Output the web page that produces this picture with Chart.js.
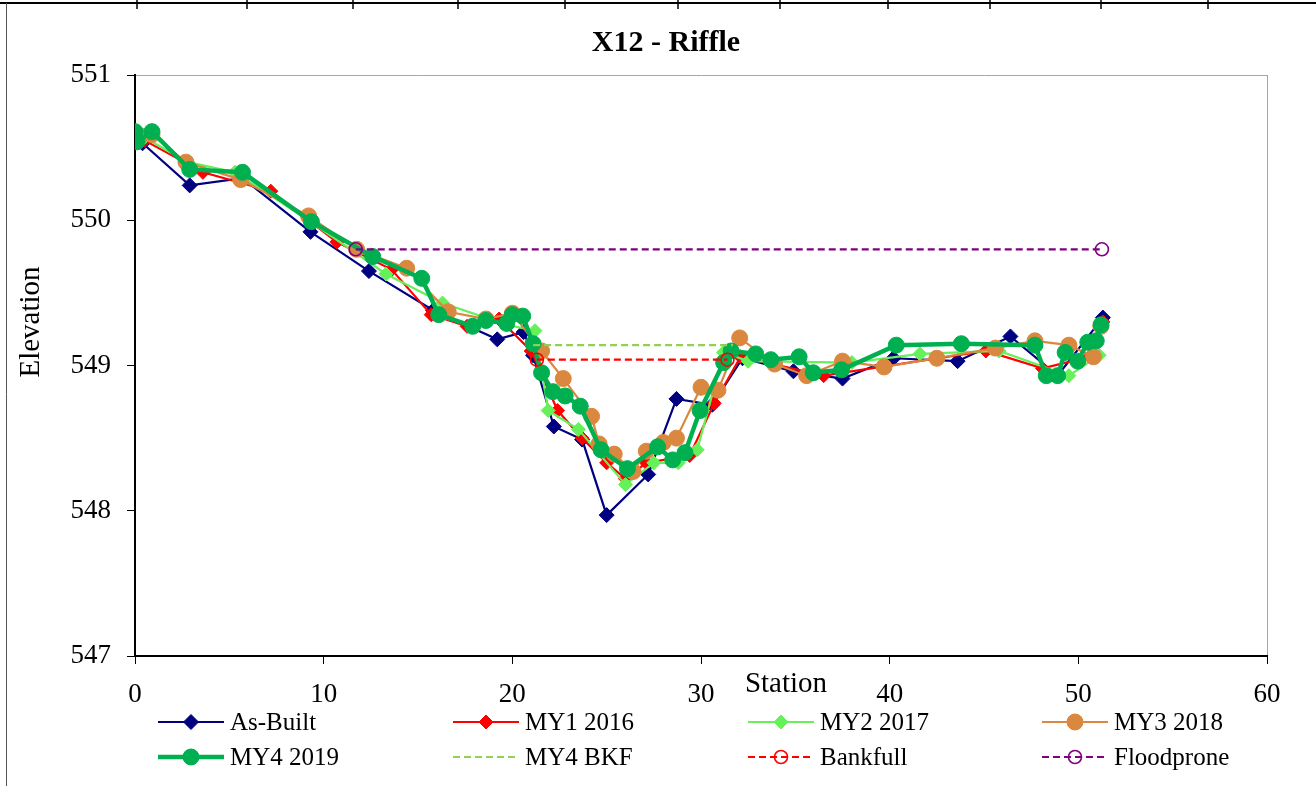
<!DOCTYPE html>
<html>
<head>
<meta charset="utf-8">
<title>X12 - Riffle</title>
<script src="https://cdn.jsdelivr.net/npm/chart.js@4.4.0/dist/chart.umd.min.js"></script>
<style>
html, body { margin: 0; padding: 0; background: #fff; }
</style>
</head>
<body>
<canvas id="chart1" width="1316" height="786"></canvas>
<script>
// cross section data (station, elevation)
var asBuiltSta  = [0.4, 2.9, 5.7, 9.3, 12.4, 15.8, 19.2, 20.6, 21.1, 22.2, 23.7, 25.0, 27.2, 28.7, 30.6, 32.2, 34.9, 37.5, 40.2, 43.6, 46.4, 48.9, 51.3];
var asBuiltElev = [550.53, 550.24, 550.29, 549.92, 549.65, 549.38, 549.18, 549.23, 549.07, 548.58, 548.49, 547.97, 548.25, 548.77, 548.73, 549.05, 548.96, 548.91, 549.05, 549.03, 549.2, 548.93, 549.33];

var my1Sta  = [0.5, 3.6, 7.2, 10.7, 13.6, 15.7, 17.6, 19.3, 21.0, 22.4, 23.7, 25.0, 26.0, 27.1, 29.4, 30.7, 32.1, 36.5, 45.1, 48.1, 50.6, 51.3];
var my1Elev = [550.55, 550.33, 550.2, 549.85, 549.66, 549.35, 549.27, 549.32, 549.1, 548.69, 548.5, 548.33, 548.22, 548.33, 548.38, 548.74, 549.06, 548.93, 549.1, 548.98, 549.06, 549.3];

var my2Sta  = [0.5, 2.8, 5.3, 9.2, 13.3, 16.3, 19.7, 21.2, 21.9, 23.5, 26.0, 27.5, 28.8, 29.8, 31.2, 32.5, 38.0, 41.6, 45.8, 49.5, 51.1];
var my2Elev = [550.57, 550.4, 550.33, 550.0, 549.63, 549.43, 549.28, 549.24, 548.69, 548.56, 548.18, 548.33, 548.33, 548.42, 549.09, 549.03, 549.02, 549.08, 549.1, 548.93, 549.07];

var my3Sta  = [0.3, 0.9, 2.7, 5.6, 9.2, 11.75, 14.4, 16.6, 18.6, 20.0, 21.55, 22.7, 24.2, 24.6, 25.4, 26.4, 27.1, 28.0, 28.7, 30.0, 30.9, 32.05, 33.9, 35.6, 37.5, 39.7, 42.5, 45.6, 47.7, 49.5, 50.8, 51.2];
var my3Elev = [550.58, 550.59, 550.4, 550.28, 550.03, 549.8, 549.67, 549.37, 549.32, 549.36, 549.1, 548.91, 548.65, 548.46, 548.39, 548.27, 548.41, 548.47, 548.5, 548.85, 548.83, 549.19, 549.01, 548.93, 549.03, 548.99, 549.05, 549.12, 549.17, 549.14, 549.06, 549.27];

var my4Sta  = [0.0, 0.1, 0.9, 2.9, 5.7, 9.35, 12.6, 15.2, 16.1, 17.9, 18.6, 19.7, 20.0, 20.55, 21.1, 21.55, 22.15, 22.8, 23.6, 24.7, 26.1, 27.7, 28.5, 29.15, 29.95, 31.2, 31.6, 32.9, 33.7, 35.2, 35.95, 37.45, 40.35, 43.8, 47.7, 48.3, 48.9, 49.3, 49.97, 50.5, 50.95, 51.2];
var my4Elev = [550.61, 550.54, 550.61, 550.35, 550.33, 549.99, 549.75, 549.6, 549.35, 549.27, 549.31, 549.29, 549.35, 549.34, 549.15, 548.95, 548.82, 548.79, 548.72, 548.42, 548.29, 548.44, 548.35, 548.4, 548.69, 549.02, 549.1, 549.08, 549.04, 549.06, 548.95, 548.97, 549.14, 549.15, 549.14, 548.93, 548.93, 549.09, 549.03, 549.16, 549.17, 549.28];

var bkfMy4Sta  = [21.1, 31.7];
var bkfMy4Elev = [549.14, 549.14];
var bankfullSta  = [21.3, 31.4];
var bankfullElev = [549.04, 549.04];
var floodSta  = [11.7, 51.25];
var floodElev = [549.8, 549.8];

var xTicks = [0, 10, 20, 30, 40, 50, 60];
var yTicks = [547, 548, 549, 550, 551];

var serif = "'Liberation Serif', 'Times New Roman', serif";

function pts(sta, elev) {
    return sta.map(function (s, i) { return { x: s, y: elev[i] }; });
}

function series(label, sta, elev, o) {
    return {
        label: label,
        data: pts(sta, elev),
        showLine: true,
        fill: false,
        borderColor: o.color,
        backgroundColor: o.color,
        borderWidth: o.width,
        borderDash: o.dash || [],
        pointStyle: o.style || false,
        pointRadius: o.radius || 0,
        pointBackgroundColor: o.open ? 'rgba(0,0,0,0)' : o.color,
        pointBorderColor: o.color,
        pointBorderWidth: o.open ? 1.6 : 1,
        pointHoverRadius: o.radius || 0
    };
}

var datasets = [
    series('As-Built', asBuiltSta, asBuiltElev, { color: '#000080', width: 2.2, style: 'rectRot', radius: 7.5 }),
    series('MY1 2016', my1Sta, my1Elev, { color: '#FF0000', width: 2.2, style: 'rectRot', radius: 7 }),
    series('MY2 2017', my2Sta, my2Elev, { color: '#66F05A', width: 2.2, style: 'rectRot', radius: 7 }),
    series('MY3 2018', my3Sta, my3Elev, { color: '#DA8840', width: 2.2, style: 'circle', radius: 8 }),
    series('MY4 2019', my4Sta, my4Elev, { color: '#00B050', width: 4.5, style: 'circle', radius: 8 }),
    series('MY4 BKF', bkfMy4Sta, bkfMy4Elev, { color: '#92D050', width: 2.2, dash: [7, 4] }),
    series('Bankfull', bankfullSta, bankfullElev, { color: '#FF0000', width: 2.2, dash: [7, 4], style: 'circle', radius: 6.5, open: true }),
    series('Floodprone', floodSta, floodElev, { color: '#800080', width: 2.2, dash: [7, 4], style: 'circle', radius: 6.5, open: true })
];
// later series sit on top, like the spreadsheet
datasets.forEach(function (d, i) { d.order = datasets.length - i; });

// page lines, axis titles and legend
var extras = {
    id: 'extras',
    beforeDraw: function (chart) {
        var ctx = chart.ctx;
        ctx.save();
        ctx.strokeStyle = '#000';
        ctx.lineWidth = 2;
        ctx.beginPath();
        ctx.moveTo(0, 3);
        ctx.lineTo(chart.width, 3);
        ctx.stroke();
        ctx.lineWidth = 1.5;
        [137, 247, 353, 458, 565, 678, 780, 888, 990, 1101, 1208].forEach(function (x) {
            ctx.beginPath();
            ctx.moveTo(x, 0);
            ctx.lineTo(x, 9);
            ctx.stroke();
        });
        ctx.strokeStyle = '#555';
        ctx.lineWidth = 1;
        ctx.beginPath();
        ctx.moveTo(6.5, 3);
        ctx.lineTo(6.5, chart.height);
        ctx.stroke();
        ctx.restore();
    },
    afterDraw: function (chart) {
        var ctx = chart.ctx;
        ctx.save();
        ctx.fillStyle = '#000';
        ctx.font = '29px ' + serif;
        ctx.textAlign = 'center';
        ctx.textBaseline = 'middle';
        ctx.fillText('Station', 786, 684);
        ctx.save();
        ctx.translate(31, 322);
        ctx.rotate(-Math.PI / 2);
        ctx.fillText('Elevation', 0, 0);
        ctx.restore();

        var colX = [158, 453, 748, 1042];
        var rowY = [722, 757];
        ctx.font = '25px ' + serif;
        ctx.textAlign = 'left';
        chart.data.datasets.forEach(function (d, i) {
            var x = colX[i % 4], y = rowY[Math.floor(i / 4)];
            ctx.strokeStyle = d.borderColor;
            ctx.lineWidth = d.borderWidth;
            ctx.setLineDash(d.borderDash);
            ctx.beginPath();
            ctx.moveTo(x, y);
            ctx.lineTo(x + 66, y);
            ctx.stroke();
            ctx.setLineDash([]);
            if (d.pointStyle) {
                ctx.fillStyle = d.pointBackgroundColor;
                ctx.strokeStyle = d.pointBorderColor;
                ctx.lineWidth = d.pointBorderWidth;
                Chart.helpers.drawPoint(ctx, { pointStyle: d.pointStyle, radius: d.pointRadius, borderWidth: d.pointBorderWidth, rotation: 0 }, x + 33, y);
            }
            ctx.fillStyle = '#000';
            ctx.fillText(d.label, x + 72, y + 1);
        });
        ctx.restore();
    }
};

var char1El = document.getElementById('chart1');
new Chart(char1El, {
    type: 'scatter',
    data: { datasets: datasets },
    plugins: [extras],
    options: {
        responsive: false,
        animation: false,
        layout: { padding: { left: 16, right: 0, top: 0, bottom: 0 } },
        plugins: {
            legend: { display: false },
            tooltip: { enabled: false },
            title: {
                display: true,
                text: 'X12 - Riffle',
                color: '#000',
                font: { family: serif, size: 30, weight: 'bold', lineHeight: 1.2 },
                padding: { top: 25, bottom: 14 }
            }
        },
        scales: {
            x: {
                type: 'linear',
                min: 0,
                max: 60,
                afterBuildTicks: function (s) { s.ticks = xTicks.map(function (v) { return { value: v }; }); },
                afterFit: function (s) { s.height = 130; },
                ticks: { color: '#000', font: { family: serif, size: 27 }, padding: 15, maxRotation: 0 },
                grid: {
                    drawOnChartArea: true,
                    drawTicks: true,
                    tickLength: 8,
                    tickColor: '#000',
                    color: function (c) { return c.tick && c.tick.value === 60 ? '#A6A6A6' : 'rgba(0,0,0,0)'; }
                },
                border: { color: '#000', width: 2 }
            },
            y: {
                min: 547,
                max: 551,
                afterBuildTicks: function (s) { s.ticks = yTicks.map(function (v) { return { value: v }; }); },
                afterFit: function (s) { s.width = 119; },
                ticks: { color: '#000', font: { family: serif, size: 27 }, padding: 16 },
                grid: {
                    drawOnChartArea: true,
                    drawTicks: true,
                    tickLength: 8,
                    tickColor: '#000',
                    color: function (c) { return c.tick && c.tick.value === 551 ? '#A6A6A6' : 'rgba(0,0,0,0)'; }
                },
                border: { color: '#000', width: 2 }
            },
            yr: {
                position: 'right',
                min: 547,
                max: 551,
                afterFit: function (s) { s.width = 49; },
                ticks: { display: false },
                grid: { display: false },
                border: { display: false }
            }
        }
    }
});
</script>
</body>
</html>
